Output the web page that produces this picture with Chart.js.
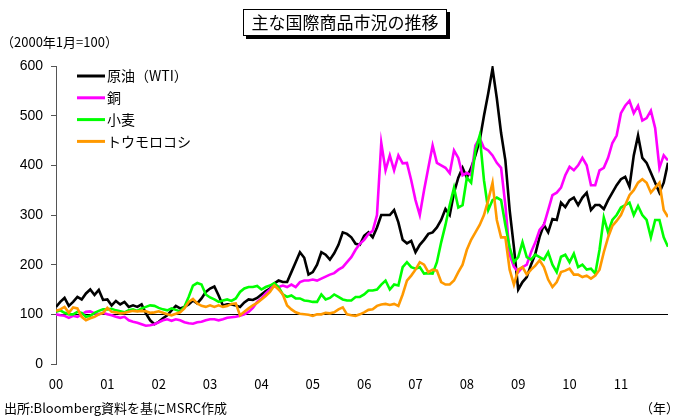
<!DOCTYPE html>
<html lang="ja">
<head>
<meta charset="utf-8">
<title>主な国際商品市況の推移</title>
<script src="https://cdn.jsdelivr.net/npm/chart.js@4.4.1/dist/chart.umd.min.js"></script>
<style>
  html, body { margin:0; padding:0; background:#fff; }
  #wrap { width:680px; height:417px; position:relative; }
</style>
</head>
<body>
<div id="wrap"><canvas id="chart" width="680" height="417"></canvas></div>
<script>
// ── Data (monthly, Jan 2000 – Dec 2011, 2000年1月=100) ──────────
const YEAR_LABELS = ['00','01','02','03','04','05','06','07','08','09','10','11'];
const SERIES_NAMES = ['原油（WTI）','銅','小麦','トウモロコシ'];

const OIL = [
  115,125,133,117,125,135,130,142,150,139,149,129,
  130,118,127,120,125,115,118,115,120,102,88,80,
  85,92,98,108,117,112,115,120,128,122,132,145,
  152,156,138,118,120,120,118,115,124,130,129,133,
  140,147,152,162,168,165,165,185,205,225,214,180,
  185,200,225,220,210,223,240,265,262,255,242,240,
  258,265,255,275,300,300,300,310,285,250,243,248,
  225,240,250,262,265,275,290,312,300,345,375,395,
  375,395,420,450,500,545,595,535,465,410,310,235,
  150,165,175,200,222,256,280,265,292,290,325,316,
  330,335,320,335,345,310,320,320,312,330,345,360,
  372,377,357,420,460,415,405,385,365,345,365,405
];
const COPPER = [
  100,98,97,93,97,95,100,105,106,102,100,103,
  100,98,95,93,95,88,85,83,80,77,78,80,
  84,88,90,87,90,88,84,82,81,84,85,88,
  90,90,88,90,93,94,95,97,100,105,113,125,
  132,142,150,160,155,158,155,160,155,165,168,168,
  170,168,172,176,180,183,190,195,205,215,230,242,
  250,262,268,300,445,390,420,390,420,404,405,370,
  330,300,350,395,440,405,400,395,384,430,415,380,
  385,380,440,455,435,430,420,405,395,320,220,196,
  185,195,200,225,245,270,280,310,340,345,355,380,
  397,390,400,415,400,360,360,390,395,415,445,460,
  505,520,530,505,520,490,495,510,475,395,420,410
];
const WHEAT = [
  105,108,103,100,100,105,103,95,97,103,107,110,
  110,111,108,106,104,108,110,107,112,115,118,117,
  113,110,108,112,109,106,115,135,158,163,160,140,
  134,130,125,128,130,127,132,145,152,155,155,157,
  150,155,158,163,155,140,135,138,132,132,128,127,
  125,125,140,130,133,140,135,130,128,128,135,135,
  140,148,148,150,160,168,150,160,158,195,205,195,
  192,195,182,183,182,205,245,280,320,355,315,320,
  375,365,430,460,370,310,330,335,330,280,235,205,
  215,245,215,210,220,215,210,225,200,185,216,220,
  205,222,195,200,190,192,182,230,295,265,290,300,
  315,320,325,300,318,300,290,255,290,290,255,236
];
const CORN = [
  107,110,115,103,114,112,95,88,92,95,100,103,
  113,105,104,102,103,105,107,106,107,106,103,104,
  106,103,100,98,101,104,112,125,131,122,117,115,
  118,115,118,115,117,121,122,98,105,112,118,123,
  130,137,145,158,150,140,118,110,104,101,100,99,
  97,100,100,103,102,104,110,114,100,98,97,100,
  104,109,110,117,120,121,119,121,117,140,168,178,
  190,205,200,185,190,188,165,160,160,168,185,200,
  230,250,265,280,300,330,365,290,255,255,190,160,
  190,195,180,190,198,209,195,170,155,165,185,188,
  192,180,180,175,178,172,178,190,225,255,278,288,
  300,320,340,350,365,372,365,345,355,365,310,296
];

const COLORS = ['#000000','#FF00FF','#00FF00','#FF9900'];
const JP_FONT = "'Noto Sans CJK JP', 'Noto Sans', sans-serif";

// monthly points on a year axis (0 = Jan 2000)
const toPoints = arr => arr.map((v, i) => ({ x: i / 12, y: v }));

// ── Decorations: 100 line, title box, notes, legend ──────────
const decor = {
  id: 'decor',
  beforeDatasetsDraw(chart) {
    const { ctx, chartArea: a, scales: { y } } = chart;
    const py = Math.round(y.getPixelForValue(100)) + 0.5;
    ctx.save();
    ctx.strokeStyle = '#000'; ctx.lineWidth = 1.2;
    ctx.beginPath(); ctx.moveTo(a.left, py); ctx.lineTo(a.right, py); ctx.stroke();
    ctx.restore();
  },
  afterDraw(chart) {
    const ctx = chart.ctx;
    ctx.save();
    // title box with shadow
    ctx.fillStyle = '#000';
    ctx.fillRect(246, 12, 204, 27);
    ctx.fillStyle = '#fff';
    ctx.fillRect(243, 9, 204, 27);
    ctx.strokeStyle = '#000'; ctx.lineWidth = 1;
    ctx.strokeRect(243.5, 9.5, 203, 26);
    ctx.fillStyle = '#000';
    ctx.font = '17px ' + JP_FONT;
    ctx.textAlign = 'center'; ctx.textBaseline = 'middle';
    ctx.fillText('主な国際商品市況の推移', 345, 23);

    // unit + source notes
    ctx.font = '13px ' + JP_FONT;
    ctx.textAlign = 'left';
    ctx.fillText('（2000年1月=100）', 1, 42);
    ctx.fillText('出所:Bloomberg資料を基にMSRC作成', 4, 408);
    ctx.textAlign = 'right';
    ctx.fillText('（年）', 679, 408);

    // legend
    ctx.textAlign = 'left';
    ctx.font = '14px ' + JP_FONT;
    SERIES_NAMES.forEach((name, i) => {
      const ly = 76 + i * 21.8;
      ctx.strokeStyle = COLORS[i]; ctx.lineWidth = 3;
      ctx.beginPath(); ctx.moveTo(77, ly); ctx.lineTo(105, ly); ctx.stroke();
      ctx.fillStyle = '#000';
      ctx.fillText(name, 107, ly);
    });
    ctx.restore();
  }
};

// ── Chart ────────────────────────────────────────────────────
const seriesData = [OIL, COPPER, WHEAT, CORN];

new Chart(document.getElementById('chart'), {
  type: 'line',
  data: {
    datasets: seriesData.map((arr, i) => ({
      label: SERIES_NAMES[i],
      data: toPoints(arr),
      borderColor: COLORS[i],
      borderWidth: 2.6,
      pointRadius: 0,
      tension: 0,
      order: 4 - i,
    }))
  },
  options: {
    responsive: false,
    animation: false,
    layout: { padding: { top: 66, right: 12, bottom: 23, left: 0 } },
    plugins: { legend: { display: false }, tooltip: { enabled: false } },
    scales: {
      x: {
        type: 'linear',
        min: 0, max: 143 / 12,
        afterBuildTicks: s => { s.ticks = YEAR_LABELS.map((_, i) => ({ value: i })); },
        afterFit: s => { s.height = 30; },
        ticks: {
          color: '#000', padding: 12, maxRotation: 0, autoSkip: false,
          font: { family: JP_FONT, size: 13 },
          callback: v => YEAR_LABELS[v] ?? '',
        },
        grid: { display: false, drawTicks: false },
        border: { display: false },
      },
      y: {
        min: 0, max: 600,
        afterFit: s => { s.width = 56; },
        ticks: {
          stepSize: 100, color: '#000', padding: 8,
          font: { family: "'Liberation Sans', Arial, sans-serif", size: 14 },
        },
        grid: { drawOnChartArea: false, drawTicks: true, tickLength: 5, color: '#555' },
        border: { display: true, color: '#555', width: 1 },
      }
    }
  },
  plugins: [decor]
});
</script>
</body>
</html>
